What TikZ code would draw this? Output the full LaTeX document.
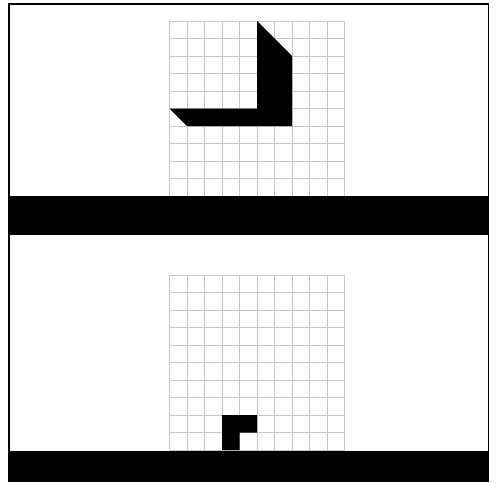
\documentclass[tikz,border=0pt]{standalone}
\begin{document}
\begin{tikzpicture}[x=1pt,y=-1pt,
  gridline/.style={draw=black!22,line width=0.6pt},
  solid/.style={fill=black,draw=none},
  frameline/.style={draw=black,line width=1.3pt}]
\useasboundingbox (0,0) rectangle (498,482);
\fill[white] (0,0) rectangle (498,482);
% top panel grid
\begin{scope}[shift={(169.5,21)},x=17.5pt,y=-17.5pt]
  \foreach \i in {0,...,10} {
    \draw[gridline] (\i,0) -- (\i,10);
    \draw[gridline] (0,\i) -- (10,\i);
  }
  \path[solid] (5,0) -- (7,2) -- (7,6) -- (1,6) -- (0,5) -- (5,5) -- cycle;
\end{scope}
% bottom panel grid
\begin{scope}[shift={(169.5,275)},x=17.5pt,y=-17.5pt]
  \foreach \i in {0,...,10} {
    \draw[gridline] (\i,0) -- (\i,10);
    \draw[gridline] (0,\i) -- (10,\i);
  }
  \path[solid] (3,8) -- (5,8) -- (5,9) -- (4,9) -- (4,10) -- (3,10) -- cycle;
\end{scope}
% ground bars
\path[solid] (9,196) rectangle (488.5,235);
\path[solid] (9,450.5) rectangle (488.5,482);
% frame
\draw[frameline] (9,482) -- (9,4) -- (488.5,4) -- (488.5,482);
\end{tikzpicture}
\end{document}
